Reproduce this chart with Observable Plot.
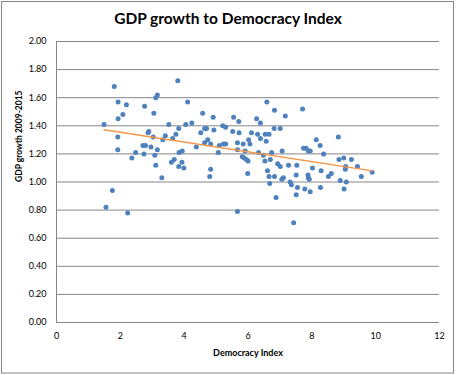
<!DOCTYPE html>
<html>
<head>
<meta charset="utf-8">
<script src="https://cdn.jsdelivr.net/npm/d3@7"></script>
<script src="https://cdn.jsdelivr.net/npm/@observablehq/plot@0.6"></script>
<style>
  html, body { margin: 0; padding: 0; background: #fff; }
  #chart { width: 456px; height: 375px; }
</style>
</head>
<body>
<div id="chart"></div>
<script>
const title = "GDP growth to Democracy Index";
const xLabel = "Democracy Index";
const yLabel = "GDP growth 2009-2015";
const xTicks = [0, 2, 4, 6, 8, 10, 12];
const yTicks = [0, 0.2, 0.4, 0.6, 0.8, 1.0, 1.2, 1.4, 1.6, 1.8, 2.0];

const democracy = [
  1.81, 3.80, 1.93, 2.19, 3.16, 3.11, 2.76, 4.11, 2.08, 1.93,
  3.05, 1.49, 3.52, 4.05, 3.83, 2.89, 2.87, 3.41, 3.03, 3.74,
  3.64, 3.33, 1.92, 2.71, 2.79, 2.96, 1.92, 3.16, 2.48, 2.36,
  2.74, 3.08, 3.84, 3.94, 3.69, 3.60, 3.93, 3.83, 3.99, 3.11,
  3.30, 1.75, 1.55, 2.23,
  4.58, 4.91, 5.55, 5.71, 4.24, 6.59, 6.83, 7.17, 7.71, 6.27,
  6.39, 6.82, 7.01, 4.52, 4.64, 4.70, 4.93, 5.21, 5.30, 5.52,
  5.72, 6.11, 6.30, 6.39, 6.54, 6.66, 6.57, 4.74, 4.64, 4.83,
  5.10, 5.23, 5.30, 5.67, 5.85, 6.02, 6.06, 4.38, 5.07, 5.67,
  5.91, 6.33, 6.74, 7.07, 7.74, 7.82, 7.89, 5.82, 5.88, 5.95,
  6.00, 6.48, 6.53, 6.70, 6.61, 6.66, 6.68, 6.83, 6.93, 7.01,
  7.11, 7.06, 7.27, 7.32, 7.36, 7.53, 7.51, 7.55, 7.51, 7.78,
  7.88, 7.89, 7.95, 6.88, 5.99, 4.83, 4.80, 5.67, 7.43,
  8.83, 8.14, 8.26, 7.95, 8.37, 8.85, 9.00, 9.24, 9.06, 9.05,
  9.43, 9.55, 9.89, 8.61, 8.52, 8.29, 8.02, 7.92, 8.89, 9.08,
  8.27, 9.01
];
const gdpGrowth = [
  1.68, 1.72, 1.57, 1.55, 1.62, 1.60, 1.54, 1.57, 1.48, 1.45,
  1.49, 1.41, 1.41, 1.41, 1.38, 1.36, 1.35, 1.33, 1.32, 1.34,
  1.31, 1.30, 1.32, 1.26, 1.26, 1.25, 1.23, 1.23, 1.21, 1.17,
  1.20, 1.19, 1.21, 1.22, 1.16, 1.14, 1.14, 1.11, 1.10, 1.12,
  1.03, 0.94, 0.82, 0.78,
  1.49, 1.46, 1.46, 1.43, 1.42, 1.57, 1.51, 1.47, 1.52, 1.45,
  1.42, 1.38, 1.38, 1.35, 1.38, 1.38, 1.37, 1.40, 1.39, 1.36,
  1.35, 1.35, 1.34, 1.31, 1.34, 1.34, 1.29, 1.30, 1.28, 1.27,
  1.26, 1.27, 1.27, 1.28, 1.27, 1.30, 1.27, 1.25, 1.21, 1.23,
  1.22, 1.21, 1.21, 1.22, 1.24, 1.24, 1.22, 1.18, 1.17, 1.16,
  1.15, 1.19, 1.15, 1.16, 1.08, 1.04, 0.99, 1.04, 1.13, 1.11,
  1.03, 1.02, 1.12, 1.00, 0.98, 1.12, 1.05, 0.96, 0.91, 0.95,
  1.05, 1.03, 0.93, 0.89, 1.06, 1.09, 1.04, 0.79, 0.71,
  1.32, 1.30, 1.26, 1.22, 1.20, 1.16, 1.17, 1.16, 1.11, 1.09,
  1.11, 1.04, 1.07, 1.06, 1.04, 1.08, 1.10, 1.02, 1.01, 1.00,
  0.96, 0.95
];

const data = democracy.map((x, i) => ({x, y: gdpGrowth[i]}));
const font = "Lato, 'Open Sans', sans-serif";
const grid = "#868686";

const W = 456, H = 375;
const plot = Plot.plot({
  width: W,
  height: H,
  marginLeft: 56,
  marginRight: 17,
  marginTop: 41,
  marginBottom: 53,
  style: {fontFamily: font, background: "#fff", overflow: "visible"},
  x: {domain: [0, 12], ticks: xTicks, tickSize: 0, tickPadding: 10, label: null},
  y: {domain: [0, 2], ticks: yTicks, tickSize: 0, tickPadding: 10, label: null,
      tickFormat: d => d.toFixed(2)},
  marks: [
    Plot.ruleY(yTicks, {stroke: grid, strokeWidth: 1}),
    Plot.ruleX([0], {stroke: grid, strokeWidth: 1}),
    Plot.axisY({ticks: yTicks, tickSize: 0, tickPadding: 10, tickFormat: d => d.toFixed(2), fontSize: 9, fill: "#000", label: null}),
    Plot.axisX({ticks: xTicks, tickSize: 0, tickPadding: 10, fontSize: 9, fill: "#000", label: null}),
    Plot.dot(data, {x: "x", y: "y", r: 2.5, fill: "#4F81BD", stroke: "none"}),
    Plot.linearRegressionY(data, {x: "x", y: "y", stroke: "#F79646", strokeWidth: 1.5, ci: 0}),
    Plot.text([title], {frameAnchor: "top", dy: -29, dx: -20, fontSize: 15.5, fontWeight: "bold", fill: "#000"}),
    Plot.text([xLabel], {frameAnchor: "bottom", dy: 33, fontSize: 9, fontWeight: "bold", fill: "#000"}),
    Plot.text([yLabel], {frameAnchor: "left", dx: -37, rotate: -90, fontSize: 8.5, fontWeight: "bold", fill: "#000"})
  ]
});

d3.select(plot).append("rect")
  .attr("x", 1.5).attr("y", 1.5)
  .attr("width", 452).attr("height", 371.5)
  .attr("fill", "none").attr("stroke", grid).attr("stroke-width", 1);

document.getElementById("chart").appendChild(plot);
</script>
</body>
</html>
